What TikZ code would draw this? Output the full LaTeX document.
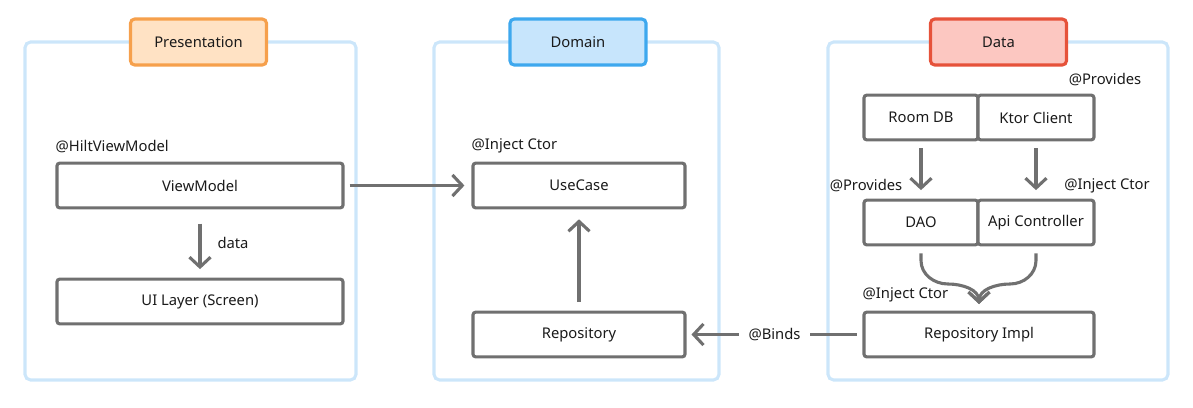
\documentclass[tikz,border=0pt]{standalone}
\usepackage{fontspec}
\setmainfont{Noto Sans}
\usepackage{tikz}
\usetikzlibrary{arrows.meta, positioning}
\definecolor{panelblue}{RGB}{204,230,250}
\definecolor{linegray}{RGB}{112,112,112}
\definecolor{txt}{RGB}{26,26,26}
\definecolor{orangefill}{RGB}{255,226,196}
\definecolor{orangeline}{RGB}{246,160,76}
\definecolor{bluefill}{RGB}{199,229,252}
\definecolor{blueline}{RGB}{62,168,238}
\definecolor{redfill}{RGB}{252,199,193}
\definecolor{redline}{RGB}{230,82,58}

\begin{document}
\begin{tikzpicture}[x=0.025cm, y=-0.025cm, font=\fontsize{10.5}{12}\selectfont, text=txt,
    panel/.style={draw=panelblue, line width=2.2pt, rounded corners=4pt},
    tab/.style={line width=2.2pt, rounded corners=3pt, minimum width=3.4cm, minimum height=1.15cm},
    box/.style={draw=linegray, fill=white, line width=2.2pt, rounded corners=2pt, minimum height=1.12cm},
    tag/.style={inner sep=0pt},
    arr/.style={draw=linegray, line width=2.2pt, -{Straight Barb[length=7pt, width=15pt]}}]
    \useasboundingbox (0,0) rectangle (1193,408);

    % ba khung lớn
    \draw[panel] (25,42) rectangle (356,380);
    \draw[panel] (434,42) rectangle (719,380);
    \draw[panel] (828,42) rectangle (1168,380);

    % nhãn tiêu đề của mỗi khung
    \node[tab, draw=orangeline, fill=orangefill] (presentation) at (198.5,42) {Presentation};
    \node[tab, draw=blueline, fill=bluefill] (domain) at (578,42) {Domain};
    \node[tab, draw=redline, fill=redfill] (data) at (998.5,42) {Data};

    % Presentation
    \node[box, minimum width=7.15cm] (vm) at (200,185.5) {ViewModel};
    \node[box, minimum width=7.15cm] (ui) at (200,301.5) {UI Layer (Screen)};
    \node[tag, anchor=south west] (hilt) at ([yshift=6pt]vm.north west) {@HiltViewModel};
    \draw[arr, shorten <=10pt, shorten >=6pt] (vm.south) -- (ui.north);
    \node (datalbl) at (233,243) {data};

    % Domain
    \node[box, minimum width=5.3cm] (uc) at (579,185.5) {UseCase};
    \node[box, minimum width=5.3cm] (repo) at (579,334.5) {Repository};
    \node[tag, anchor=south west] (ucinj) at ([yshift=6pt]uc.north west) {@Inject Ctor};
    \draw[arr, shorten <=6pt, shorten >=7pt] (repo.north) -- (uc.south);
    \draw[arr, shorten <=3.5pt, shorten >=5pt] (vm.east) -- (uc.west);

    % Data
    \node[box, minimum width=2.85cm] (room) at (921,117.5) {Room DB};
    \node[box, minimum width=2.9cm] (ktor) at (1036,117.5) {Ktor Client};
    \node[box, minimum width=2.85cm] (dao) at (921,222.5) {DAO};
    \node[box, minimum width=2.9cm] (api) at (1036,222.5) {Api Controller};
    \node[box, minimum width=5.75cm] (impl) at (979,334.5) {Repository Impl};
    \node (ktorprov) at (1105,80) {@Provides};
    \node (daoprov) at (866,186) {@Provides};
    \node (apiinj) at (1107,186) {@Inject Ctor};
    \node[tag, anchor=south west] (implinj) at ([yshift=6pt]impl.north west) {@Inject Ctor};
    \draw[arr, shorten <=5pt, shorten >=6pt] (room.south) -- (dao.north);
    \draw[arr, shorten <=5pt, shorten >=6pt] (ktor.south) -- (api.north);

    % hai nhánh gộp vào Repository Impl
    \coordinate (merge) at (979,304);
    \draw[arr, shorten <=5pt] (dao.south) -- ++(0,14) to[out=-90, in=180] (948,284) to[out=0, in=90] (merge);
    \draw[arr, shorten <=5pt] (api.south) -- ++(0,14) to[out=-90, in=0] (1010,284) to[out=180, in=90] (merge);

    % @Binds
    \draw[arr, shorten <=4pt, shorten >=3.5pt] (impl.west) -- node[fill=white, inner xsep=7pt] (binds) {@Binds} (repo.east);
\end{tikzpicture}
\end{document}
